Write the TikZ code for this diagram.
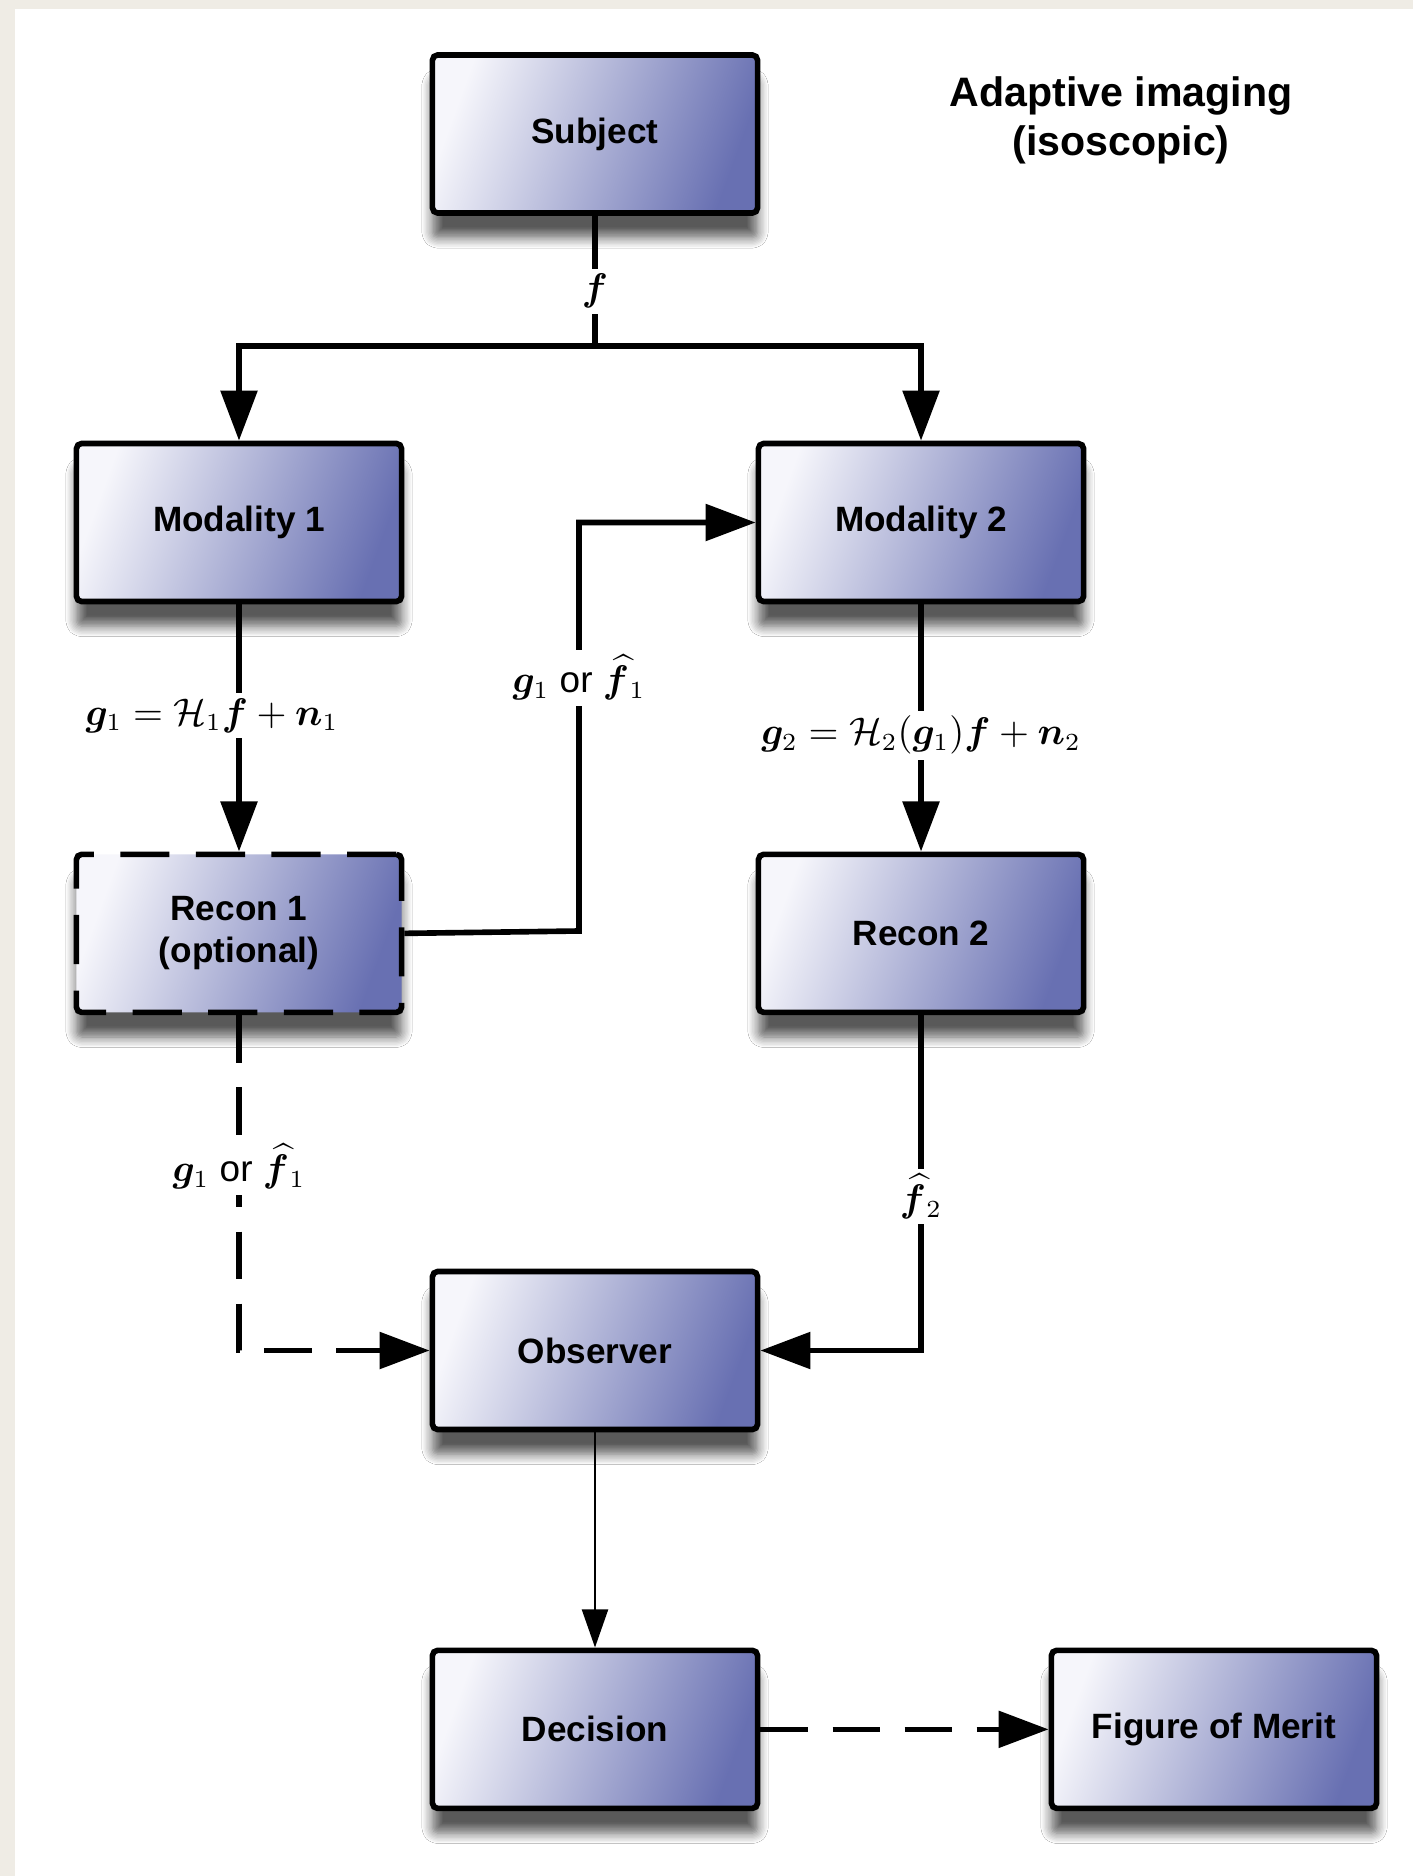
\documentclass[tikz,border=0pt]{standalone}
\usepackage{amsmath,amssymb,bm}
\usepackage{fontspec}
\setmainfont{Liberation Sans}
\usetikzlibrary{positioning,arrows.meta,shadows.blur}
\definecolor{boxlite}{HTML}{F6F6FB}
\definecolor{boxblue}{HTML}{6870B2}
\definecolor{pagebg}{HTML}{EFECE5}
\tikzset{
  box/.style={draw, line width=1.6pt, rounded corners=1.5pt, minimum width=3.25cm, minimum height=1.58cm, align=center,
    font=\bfseries\fontsize{10}{12}\selectfont, shading=axis, left color=boxlite, right color=boxblue, shading angle=70,
    blur shadow={shadow xshift=0pt, shadow yshift=-7pt, shadow blur radius=3pt, shadow blur steps=8, shadow opacity=65}},
  optbox/.style={box, dash pattern=on 14pt off 7.5pt},
  sig/.style={-{Triangle[length=5mm, width=3.6mm]}, line width=1.6pt},
  opt/.style={sig, dash pattern=on 13.5pt off 7pt},
  thinsig/.style={-{Triangle[length=3.8mm, width=2.6mm]}, line width=0.6pt},
  lbl/.style={fill=white, inner sep=1.5pt, font=\fontsize{10.5}{12.5}\selectfont},
  title/.style={align=center, font=\bfseries\fontsize{11.7}{14}\selectfont},
}

\begin{document}
\begin{tikzpicture}[x=0.01cm, y=-0.01cm]
  % page
  \fill[pagebg] (0,0) rectangle (1413,1876);
  \fill[white] (15,9) rectangle (1413,1876);
  \useasboundingbox (0,0) rectangle (1413,1876);

  \node[box] (subj) at (595,134) {Subject};
  \node[title] (title) at (1121,120) {Adaptive imaging\\(isoscopic)};
  \node[box] (mod1) at (239,522.5) {Modality 1};
  \node[box, right=3.51cm of mod1] (mod2) {Modality 2};
  \node[optbox, below=2.47cm of mod1] (rec1) {Recon 1\\(optional)};
  \node[box, below=2.47cm of mod2] (rec2) {Recon 2};
  \node[box] (obs) at (595,1350.5) {Observer};
  \node[box, below=2.15cm of obs] (dec) {Decision};
  \node[box, right=2.88cm of dec] (fom) {Figure of Merit};

  \coordinate (split) at (595,346);
  \coordinate (bend) at (579,931);

  \draw[line width=1.6pt] (subj) -- node[lbl, pos=0.58] (lf) {$\bm f$} (split);
  \draw[sig] (split) -| (mod1);
  \draw[sig] (split) -| (mod2);
  \draw[sig] (mod1) -- node[lbl, pos=0.45, xshift=-0.27cm] (lg1)
    {$\bm g_1 = \mathcal{H}_1 \bm f + \bm n_1$} (rec1);
  \draw[sig] (rec1.east) -- (bend) |- node[lbl, pos=0.31] (lor1)
    {$\bm g_1$ or $\widehat{\bm f}_{\,1}$} (mod2.west);
  \draw[sig] (mod2) -- node[lbl, pos=0.53] (lg2)
    {$\bm g_2 = \mathcal{H}_2(\bm g_1) \bm f + \bm n_2$} (rec2);
  \draw[opt] (rec1) |- node[lbl, pos=0.226] (lor2)
    {$\bm g_1$ or $\widehat{\bm f}_{\,1}$} (obs);
  \draw[sig] (rec2) |- node[lbl, pos=0.27] (lf2) {$\widehat{\bm f}_{\,2}$} (obs);
  \draw[thinsig] (obs) -- (dec);
  \draw[opt] (dec) -- (fom);
\end{tikzpicture}
\end{document}
